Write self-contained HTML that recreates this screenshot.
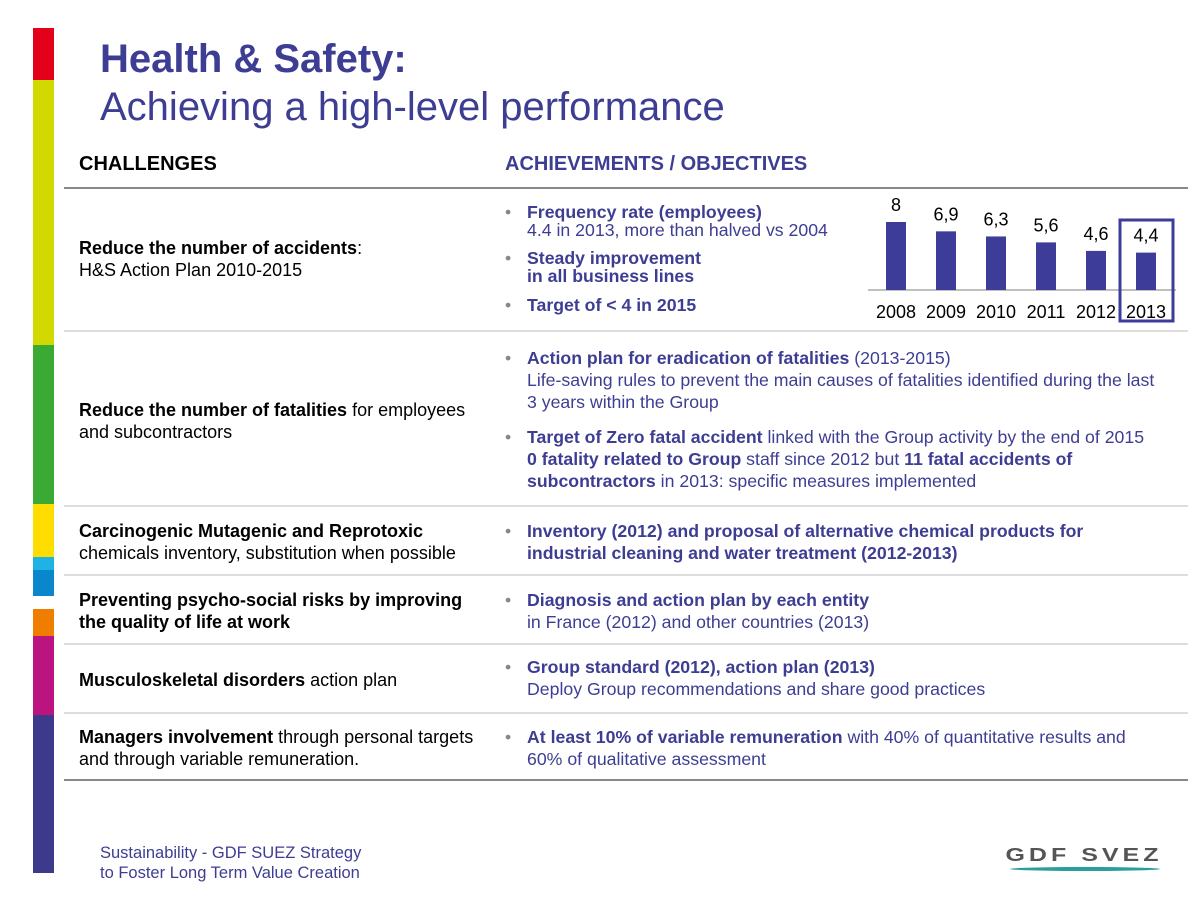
<!DOCTYPE html>
<html><head><meta charset="utf-8">
<style>
body{margin:0;width:1200px;height:900px;background:#fff;position:relative;overflow:hidden;font-family:"Liberation Sans",Arial,sans-serif}
.a{position:absolute;white-space:nowrap}
.seg{position:absolute;left:33px;width:21px}
.t{font-size:18px;line-height:22px;color:#000}
.b{font-size:17.7px;line-height:22px;color:#3d3d93}
.bl{position:absolute;left:-22px;color:#888}
.hl{position:absolute;left:64px;width:1124px;height:1px;background:#ddd}
</style></head><body>
<div>
<div class="seg" style="top:28px;height:52px;background:#e2001a"></div>
<div class="seg" style="top:80px;height:265px;background:#d2d900"></div>
<div class="seg" style="top:345px;height:159px;background:#3aaa35"></div>
<div class="seg" style="top:504px;height:53px;background:#ffdd00"></div>
<div class="seg" style="top:557px;height:13px;background:#1fb3e5"></div>
<div class="seg" style="top:570px;height:26px;background:#0a86cb"></div>
<div class="seg" style="top:609px;height:27px;background:#ef7d00"></div>
<div class="seg" style="top:636px;height:79px;background:#bb1480"></div>
<div class="seg" style="top:715px;height:158px;background:#3d3a8c"></div>
</div>
<div class="a" style="left:100px;top:36px;font-size:40px;line-height:46px;color:#3d3d93;font-weight:bold">Health &amp; Safety:</div>
<div class="a" style="left:100px;top:84px;font-size:40px;line-height:46px;color:#3d3d93">Achieving a high-level performance</div>

<div class="a t" style="left:79px;top:153px;font-size:20px;font-weight:bold">CHALLENGES</div>
<div class="a b" style="left:505px;top:153px;font-size:20px;font-weight:bold">ACHIEVEMENTS / OBJECTIVES</div>
<div class="hl" style="top:187px;height:2px;background:#888"></div>
<div class="hl" style="top:330px;height:2px"></div>
<div class="hl" style="top:505px;height:2px"></div>
<div class="hl" style="top:574px;height:2px"></div>
<div class="hl" style="top:643px;height:2px"></div>
<div class="hl" style="top:712px;height:2px"></div>
<div class="hl" style="top:779px;height:2px;background:#888"></div>

<div class="a t" style="left:79px;top:237px"><b>Reduce the number of accidents</b>:<br>H&amp;S Action Plan 2010-2015</div>
<div class="a b" style="left:527px;top:203px;line-height:18px"><span class="bl">•</span><b>Frequency rate (employees)</b><br>4.4 in 2013, more than halved vs 2004</div>
<div class="a b" style="left:527px;top:249px;line-height:18px;font-weight:bold"><span class="bl" style="font-weight:normal">•</span>Steady improvement<br>in all business lines</div>
<div class="a b" style="left:527px;top:294px;font-weight:bold"><span class="bl" style="font-weight:normal">•</span>Target of &lt; 4 in 2015</div>

<svg class="a" style="left:860px;top:190px" width="330" height="140" id="chart"></svg>

<div class="a t" style="left:79px;top:399px">
<b>Reduce the number of fatalities</b> for employees<br>and subcontractors</div>
<div class="a b" style="left:527px;top:347px"><span class="bl">•</span><b>Action plan for eradication of fatalities</b> (2013-2015)<br>Life-saving rules to prevent the main causes of fatalities identified during the last<br>3 years within the Group</div>
<div class="a b" style="left:527px;top:426px"><span class="bl">•</span><b>Target of Zero fatal accident</b> linked with the Group activity by the end of 2015<br><b>0 fatality related to Group</b> staff since 2012 but <b>11 fatal accidents of</b><br><b>subcontractors</b> in 2013: specific measures implemented</div>

<div class="a t" style="left:79px;top:520px"><b>Carcinogenic Mutagenic and Reprotoxic</b><br>chemicals inventory, substitution when possible</div>
<div class="a b" style="left:527px;top:520px;font-weight:bold"><span class="bl" style="font-weight:normal">•</span>Inventory (2012) and proposal of alternative chemical products for<br>industrial cleaning and water treatment (2012-2013)</div>

<div class="a t" style="left:79px;top:589px;font-weight:bold">Preventing psycho-social risks by improving<br>the quality of life at work</div>
<div class="a b" style="left:527px;top:589px"><span class="bl">•</span><b>Diagnosis and action plan by each entity</b><br>in France (2012) and other countries (2013)</div>

<div class="a t" style="left:79px;top:669px"><b>Musculoskeletal disorders</b> action plan</div>
<div class="a b" style="left:527px;top:656px"><span class="bl">•</span><b>Group standard (2012), action plan (2013)</b><br>Deploy Group recommendations and share good practices</div>

<div class="a t" style="left:79px;top:726px"><b>Managers involvement</b> through personal targets<br>and through variable remuneration.</div>
<div class="a b" style="left:527px;top:726px"><span class="bl">•</span><b>At least 10% of variable remuneration</b> with 40% of quantitative results and<br>60% of qualitative assessment</div>

<div class="a" style="left:100px;top:843px;font-size:16.5px;line-height:20px;color:#3d3d93">Sustainability - GDF SUEZ Strategy<br>to Foster Long Term Value Creation</div>
<div class="a" style="left:1000px;top:843px;width:168px;height:30px">
<div style="position:absolute;left:0;top:0;width:168px;text-align:center;font-size:25px;font-weight:bold;letter-spacing:4px;color:#555;line-height:24px;transform:scaleY(0.75)">GDF SVEZ</div>
<div style="position:absolute;left:10px;top:24px;width:150px;height:4px;border-radius:50%;background:#2a9d9d"></div>
</div>

<script>
const years=["2008","2009","2010","2011","2012","2013"];
const values=[8,6.9,6.3,5.6,4.6,4.4];
const valueLabels=["8","6,9","6,3","5,6","4,6","4,4"];
const NS="http://www.w3.org/2000/svg";
const svg=document.getElementById('chart');
const base=100, scale=8.5, x0=26, step=50, bw=20;
const xPos=i=>x0+i*step;
const yPos=v=>base-v*scale;
function mk(t,attrs){const e=document.createElementNS(NS,t);for(const k in attrs)e.setAttribute(k,attrs[k]);svg.appendChild(e);return e;}
const axis=mk('line',{x1:8,x2:316,y1:base,y2:base,stroke:'#aaa','stroke-width':1.5});


years.forEach((y,i)=>{
  const r=mk('rect',{x:xPos(i),y:yPos(values[i]),width:bw,height:values[i]*scale,fill:'#3d3d99'});
  
  
  const vl=mk('text',{x:xPos(i)+bw/2,y:yPos(values[i])-11,'text-anchor':'middle','font-size':18,'font-family':'Liberation Sans, sans-serif',fill:'#000'});
  vl.textContent=valueLabels[i];
  
  
  const yl=mk('text',{x:xPos(i)+bw/2,y:128,'text-anchor':'middle','font-size':18,'font-family':'Liberation Sans, sans-serif',fill:'#000'});
  yl.textContent=y;
  
  
});
const hb=mk('rect',{x:xPos(5)-16,y:30,width:53,height:101,fill:'none',stroke:'#3d3d99','stroke-width':3});


</script>
</body></html>
